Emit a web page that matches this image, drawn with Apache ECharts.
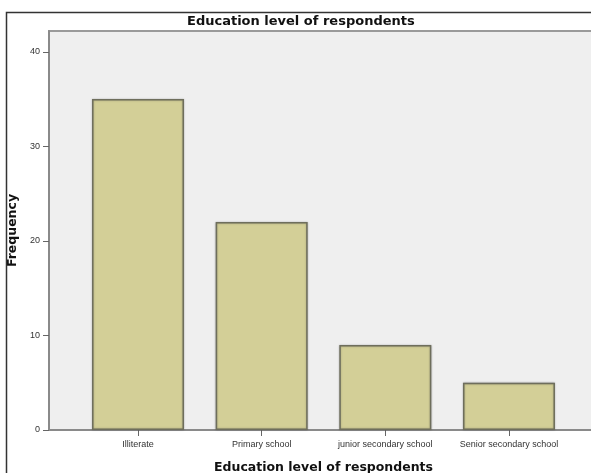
<!DOCTYPE html>
<html>
<head>
<meta charset="utf-8">
<script src="https://cdn.jsdelivr.net/npm/echarts@6/dist/echarts.min.js"></script>
<style>html,body{margin:0;padding:0;background:#fff}#c{width:591px;height:473px}</style>
</head>
<body>
<div id="c"></div>
<script>
const categories = ["Illiterate", "Primary school", "junior secondary school", "Senior secondary school"];
const frequencies = [35, 22, 9, 5];
const yTicks = [0, 10, 20, 30, 40];

const chart = echarts.init(document.getElementById('c'), null, {renderer: 'canvas'});
const font = '"Liberation Sans", Arial, sans-serif';
const boldFont = '"DejaVu Sans", Verdana, sans-serif';
chart.setOption({
  animation: false,
  backgroundColor: '#ffffff',
  title: {
    text: 'Education level of respondents',
    left: 182, top: 10,
    textStyle: {fontFamily: boldFont, fontSize: 13, fontWeight: 'bold', color: '#111'}
  },
  graphic: [{
    type: 'rect', silent: true, z: 100,
    shape: {x: 6.5, y: 12.5, width: 620, height: 500},
    style: {fill: 'none', stroke: '#333', lineWidth: 1.5}
  }],
  grid: {
    left: 49, top: 31, right: -7, bottom: 43,
    outerBoundsMode: 'none', containLabel: false,
    show: true, backgroundColor: '#efefef', borderColor: '#9a9a9a', borderWidth: 2
  },
  xAxis: {
    type: 'value', min: -0.72, max: 3.72,
    name: 'Education level of respondents', nameLocation: 'middle', nameGap: 31,
    nameTextStyle: {fontFamily: boldFont, fontSize: 12.5, fontWeight: 'bold', color: '#111'},
    splitLine: {show: false},
    axisLine: {show: true, onZero: false, lineStyle: {color: '#8a8a8a', width: 2}},
    axisTick: {show: true, customValues: [0, 1, 2, 3], length: 6, lineStyle: {color: '#666', width: 1}},
    axisLabel: {
      customValues: [0, 1, 2, 3], margin: 10,
      fontFamily: font, fontSize: 9, color: '#333',
      formatter: v => categories[Math.round(v)] || ''
    }
  },
  yAxis: {
    type: 'value', min: 0, max: 42.2,
    name: 'Frequency', nameLocation: 'middle', nameGap: 30, nameRotate: 90,
    nameTextStyle: {fontFamily: boldFont, fontSize: 12.5, fontWeight: 'bold', color: '#111'},
    splitLine: {show: false},
    axisLine: {show: true, onZero: false, lineStyle: {color: '#8a8a8a', width: 2}},
    axisTick: {show: true, customValues: yTicks, length: 6, lineStyle: {color: '#666', width: 1}},
    axisLabel: {customValues: yTicks, margin: 9, fontFamily: font, fontSize: 9, color: '#333'}
  },
  series: [{
    type: 'bar',
    barWidth: 92,
    data: frequencies.map((v, i) => [i, v]),
    itemStyle: {color: '#d3cf97', borderColor: '#6e6e5c', borderWidth: 1.5,
      shadowColor: 'rgba(0,0,0,0.25)', shadowBlur: 2}
  }]
});
</script>
</body>
</html>
